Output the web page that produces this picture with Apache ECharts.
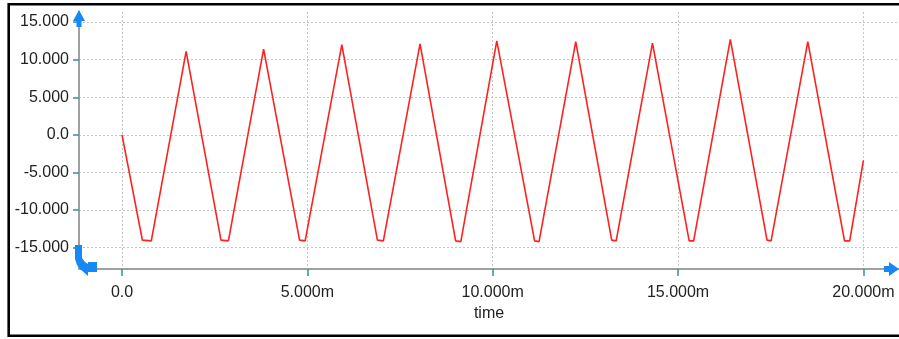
<!DOCTYPE html>
<html>
<head>
<meta charset="utf-8">
<script src="https://cdn.jsdelivr.net/npm/echarts@6/dist/echarts.min.js"></script>
<style>
  html, body { margin: 0; padding: 0; background: #fff; }
  #chart { width: 899px; height: 339px; }
</style>
</head>
<body>
<div id="chart"></div>
<script>
// time in ms (corners of the triangle wave)
const timeMs = [0, 0.55, 0.79, 1.73, 2.67, 2.87, 3.82, 4.79, 4.94, 5.93, 6.89, 7.05, 8.04,
  9.00, 9.14, 10.11, 11.13, 11.25, 12.24, 13.21, 13.33, 14.31, 15.30, 15.42, 16.41,
  17.40, 17.51, 18.50, 19.49, 19.63, 20.0];
const signal = [0, -14.0, -14.1, 11.1, -14.0, -14.1, 11.4, -14.0, -14.1, 12.0, -14.0, -14.1, 12.1,
  -14.1, -14.2, 12.5, -14.1, -14.2, 12.4, -14.0, -14.1, 12.2, -14.1, -14.1, 12.7,
  -14.0, -14.1, 12.4, -14.1, -14.1, -3.4];

const xTickValues = [0, 5, 10, 15, 20];
const xTickLabels = ['0.0', '5.000m', '10.000m', '15.000m', '20.000m'];
const yTickValues = [-15, -10, -5, 0, 5, 10, 15];
const yTickLabels = ['-15.000', '-10.000', '-5.000', '0.0', '5.000', '10.000', '15.000'];

const FONT = '"Liberation Sans", Arial, sans-serif';
const BLUE = '#1688f5';

const chart = echarts.init(document.getElementById('chart'));

const gridLine = { show: true, lineStyle: { color: '#c4c4c4', type: [2, 2], width: 1 } };

chart.setOption({
  animation: false,
  backgroundColor: '#fff',
  grid: { left: 79, right: 0, top: 12, bottom: 70 },
  xAxis: {
    type: 'value',
    min: -1.16,
    max: 20.96,
    name: 'time',
    nameLocation: 'middle',
    nameGap: 33,
    nameTextStyle: { fontFamily: FONT, fontSize: 16, color: '#222' },
    axisLine: { onZero: false, lineStyle: { color: '#a0a0a0', width: 2 } },
    axisTick: { customValues: xTickValues, length: 7, lineStyle: { color: '#2f9494', width: 1.5 } },
    axisLabel: {
      customValues: xTickValues,
      margin: 16,
      fontFamily: FONT, fontSize: 16, color: '#222',
      formatter: v => xTickLabels[xTickValues.indexOf(v)]
    },
    splitLine: gridLine
  },
  yAxis: {
    type: 'value',
    min: -17.84,
    max: 16.34,
    axisLine: { show: true, onZero: false, lineStyle: { color: '#a0a0a0', width: 2 } },
    axisTick: { show: true, customValues: yTickValues, length: 6, lineStyle: { color: '#2f9494', width: 1.5 } },
    axisLabel: {
      customValues: yTickValues,
      margin: 10,
      fontFamily: FONT, fontSize: 16, color: '#222',
      formatter: v => yTickLabels[yTickValues.indexOf(v)]
    },
    splitLine: gridLine
  },
  series: [{
    type: 'line',
    data: timeMs.map((t, i) => [t, signal[i]]),
    showSymbol: false,
    lineStyle: { color: '#ff2020', width: 1.6 },
    z: 3
  }],
  graphic: [
    // outer frame
    { type: 'rect', silent: true, shape: { x: 8.7, y: 4.3, width: 950, height: 331.5 },
      style: { fill: null, stroke: '#000', lineWidth: 2.6 }, z: 10 },
    // y axis top arrow
    { type: 'polygon', silent: true, shape: { points: [[79, 10], [85, 21], [81.5, 21], [81.5, 27], [76.5, 27], [76.5, 21], [73, 21]] },
      style: { fill: BLUE }, z: 10 },
    // x axis right arrow
    { type: 'polygon', silent: true, shape: { points: [[899, 269], [889, 262], [889, 266], [884, 266], [884, 272], [889, 272], [889, 276]] },
      style: { fill: BLUE }, z: 10 },
    // bottom-left corner hook arrow
    { type: 'polygon', silent: true, shape: { points: [[75, 245], [82, 245], [82, 258], [85, 262], [88, 264], [88, 262], [97, 262], [97, 272], [88, 272], [88, 276], [80, 269], [77, 265], [75, 259]] },
      style: { fill: BLUE }, z: 10 }
  ]
});
</script>
</body>
</html>
